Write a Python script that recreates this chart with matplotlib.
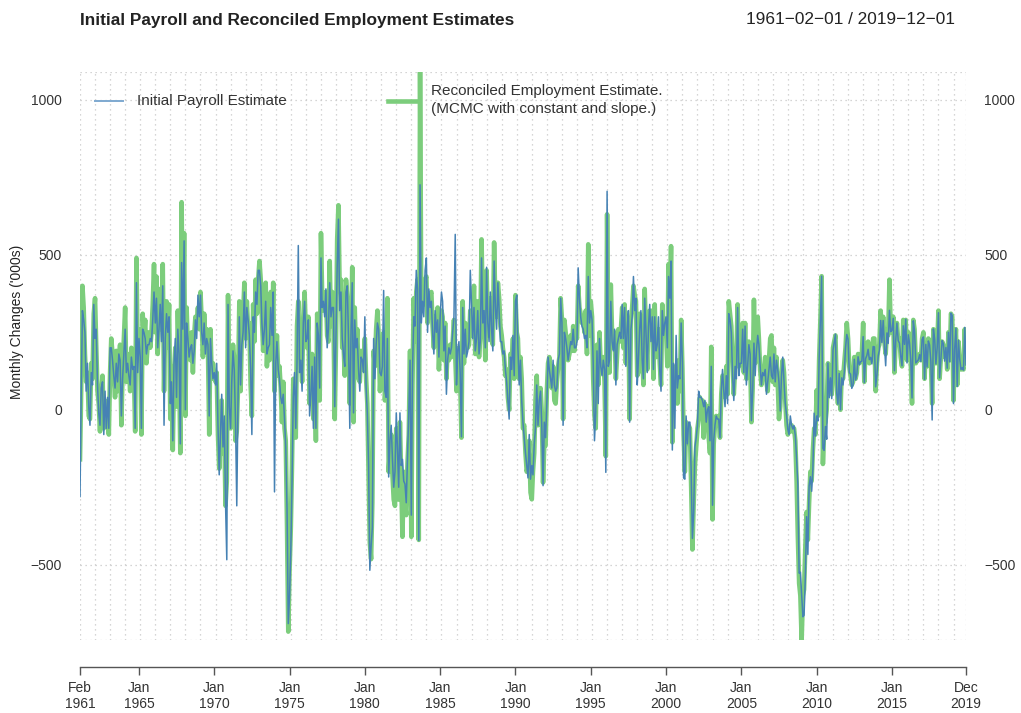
import pandas as pd
import matplotlib
matplotlib.use("Agg")
import matplotlib.pyplot as plt
from matplotlib.lines import Line2D

plt.rcParams["font.family"] = ["Liberation Sans", "DejaVu Sans"]

start_month = "1961-02-01"
end_month = "2019-12-01"

# Monthly change in payroll employment, thousands (first published estimate)
initial_payroll = [
    -280, 40, 320, 290, 250, 60, 150, 10, -50, 120, 80,               # 1961
    340, 230, 260, 80, -10, -50, 70, 90, -80, 60, -60, 40,             # 1962
    -60, 200, 200, 160, 110, 70, 150, 90, 180, 160, -20, 100,          # 1963
    180, 260, 120, 150, 110, 80, 170, 130, 140, -60, 410, 120,         # 1964
    230, 170, -60, 260, 250, 230, 180, 210, 210, 230, 220, 290,        # 1965
    380, 280, 360, 200, 260, 340, 220, 400, -50, 230, 310, 250,        # 1966
    300, 20, 90, -100, 150, 230, 40, 260, 180, -110, 475, 260,         # 1967
    545, 0, 280, 230, 170, 200, 210, 150, 190, 290, 230, 370,          # 1968
    300, 370, 250, 210, 280, 180, 230, 210, -20, 230, 150, 100,        # 1969
    120, 80, 150, -50, -210, -80, 50, -120, -20, -300, -484, 340,      # 1970
    10, -60, 90, 190, 130, -40, -310, 40, 300, 80, 210, 250,           # 1971
    380, 200, 330, 290, 240, 130, -80, 300, 250, 380, 340, 450,        # 1972
    450, 400, 280, 210, 260, 350, 180, 200, 210, 330, 240, 380,        # 1973
    -265, 150, 220, 130, 100, 40, 20, 50, -30, -120, -320, -690,       # 1974
    -600, -450, -240, 40, 120, -60, 150, 530, 120, 160, 60, 280,       # 1975
    350, 220, 230, 290, -20, 50, 140, -60, 170, -60, 280, 240,         # 1976
    70, 490, 330, 350, 300, 390, 200, 260, 410, 300, 330, 330,         # 1977
    10, 240, 460, 615, 320, 380, 230, 180, 140, 380, 400, 230,         # 1978
    -60, 260, 410, -10, 290, 200, 230, 130, 60, 170, 160, 120,         # 1979
    300, 70, -10, -180, -518, -440, -380, 230, 100, 210, 280, 260,     # 1980
    120, 110, 140, 385, 60, 40, 230, -217, -100, -50, -160, -250,      # 1981
    -200, -10, -120, -250, -10, -180, -160, -230, -240, -300, -150, -10,  # 1982
    160, -340, 120, 300, 270, 450, 390, -422, 726, 280, 350, 300,      # 1983
    450, 490, 250, 390, 330, 350, 250, 180, 320, 250, 290, 170,        # 1984
    300, 380, 350, 190, 270, 50, 160, 200, 180, 200, 250, 300,         # 1985
    566, 80, 190, 220, 120, -87, 330, 180, 260, 170, 190, 220,         # 1986
    450, 340, 230, 330, 190, 230, 320, 180, 220, 490, 280, 320,        # 1987
    200, 460, 280, 220, 380, 260, 190, 480, 330, 260, 410, 320,        # 1988
    220, 220, 180, 190, 130, 90, 30, -30, 170, 130, 240, 110,          # 1989
    350, 370, 200, 80, 160, 30, -40, -90, -140, -180, -220, -80,       # 1990
    -224, -180, -210, -110, -60, 80, -50, 30, 60, -50, -245, -40,      # 1991
    -90, 20, 170, 130, 100, 70, 160, 80, 60, 70, 160, 180,             # 1992
    360, 280, -50, 250, 230, 200, 160, 190, 220, 210, 260, 200,        # 1993
    200, 220, 458, 360, 300, 270, 260, 230, 240, 200, 430, 280,        # 1994
    320, 290, 150, -100, -10, 190, 20, 230, 140, 110, 160, 130,        # 1995
    -202, 705, 140, 160, 350, 220, 190, 260, 80, 210, 230, 250,        # 1996
    230, 340, 230, 330, 140, 260, 320, -40, 260, 300, 430, 320,        # 1997
    360, 80, 160, 260, 320, 160, 100, 360, 250, 120, 270, 340,         # 1998
    220, 300, 130, 300, 190, 210, 300, 130, 60, 320, 240, 280,         # 1999
    300, 200, 430, 360, 480, -130, 150, -60, 240, 70, 110, 100,        # 2000
    280, 150, -220, -224, -20, -110, -40, -40, -200, -415, -330, -120,  # 2001
    -90, -50, 60, 40, 40, 30, 10, 30, -40, 0, 10, -100,                # 2002
    140, -308, -100, -50, -20, -30, -30, -90, 60, 130, 60, 10,         # 2003
    110, 20, 310, 290, 250, 110, 30, 140, 100, 330, 110, 150,          # 2004
    150, 260, 120, 270, 80, 140, 210, 180, -35, 60, 215, 110,          # 2005
    190, 240, 210, 140, 80, 120, 110, 130, 50, 90, 130, 170,           # 2006
    110, 100, 180, 90, 160, 130, 90, -4, 110, 170, 90, 20,             # 2007
    -17, -63, -80, -20, -49, -62, -51, -84, -159, -240, -527, -524,    # 2008
    -598, -668, -663, -539, -345, -467, -247, -216, -263, -190, -11, -85,  # 2009
    -20, -36, 162, 290, 431, -125, -131, -54, -95, 151, 39, 103,       # 2010
    36, 192, 216, 244, 54, 18, 117, 0, 103, 80, 120, 200,              # 2011
    243, 227, 120, 115, 69, 80, 163, 96, 114, 171, 146, 155,           # 2012
    157, 236, 88, 165, 175, 195, 162, 169, 148, 204, 203, 74,          # 2013
    113, 175, 192, 288, 217, 288, 209, 142, 248, 214, 321, 252,        # 2014
    257, 295, 126, 223, 280, 223, 215, 173, 142, 271, 211, 292,        # 2015
    151, 242, 215, 160, 38, 287, 255, 151, 156, 161, 178, 156,         # 2016
    227, 235, 98, 211, 138, 222, 209, 156, -33, 261, 228, 148,         # 2017
    200, 313, 103, 164, 223, 213, 157, 201, 134, 250, 155, 312,        # 2018
    304, 20, 196, 263, 75, 224, 164, 130, 136, 128, 266, 145,          # 2019
]

# Reconciled employment estimate, thousands (MCMC with constant and slope)
reconciled = [
    -160, 60, 400, 330, 180, 90, 120, -20, -30, 150, 100,              # 1961
    310, 360, 210, 60, 20, -70, 50, 110, -60, 30, -40, 20,             # 1962
    -80, 120, 230, 180, 120, 40, 190, 60, 150, 210, -50, 130,          # 1963
    230, 330, 90, 180, 140, 60, 200, 150, 120, -70, 490, 160,          # 1964
    260, 190, -80, 310, 230, 290, 150, 210, 250, 200, 250, 340,        # 1965
    470, 250, 430, 180, 300, 390, 260, 470, 60, 280, 350, 200,         # 1966
    340, -30, 140, -130, 120, 200, 10, 320, 150, -140, 670, 210,       # 1967
    570, -20, 330, 200, 210, 160, 250, 120, 240, 300, 280, 330,        # 1968
    260, 380, 290, 170, 310, 220, 260, 200, -80, 260, 100, 150,        # 1969
    110, 90, 120, -80, -190, -100, 30, -140, -60, -310, -230, 370,     # 1970
    40, -60, 120, 210, 160, -100, -70, 80, 350, 60, 240, 300,          # 1971
    410, 230, 350, 260, 280, 80, -20, 340, 220, 420, 310, 420,         # 1972
    480, 420, 300, 190, 300, 410, 140, 250, 160, 380, 230, 410,        # 1973
    60, 180, 240, 110, 140, 70, -40, 90, -60, -100, -380, -716,        # 1974
    -520, -380, -180, 100, 10, -90, 270, 350, 180, 200, 90, 300,       # 1975
    380, 240, 200, 300, 20, 80, 180, -30, 140, -100, 310, 200,         # 1976
    30, 570, 370, 320, 330, 380, 240, 220, 480, 270, 380, 300,         # 1977
    -30, 220, 550, 660, 380, 420, 200, 220, 110, 420, 360, 250,        # 1978
    20, 230, 460, -40, 330, 170, 260, 100, 90, 190, 130, 160,          # 1979
    230, 100, 20, -200, -430, -482, -300, 190, 140, 260, 320, 240,     # 1980
    60, 140, 180, 250, 30, 90, 360, -200, -130, -80, -210, -290,       # 1981
    -310, -60, -160, -290, -40, -230, -410, -200, -300, -340, -170, -80,  # 1982
    190, -410, 80, 360, 220, 380, 420, -420, 1090, 320, 400, 340,      # 1983
    420, 430, 280, 360, 370, 380, 270, 200, 300, 280, 330, 130,        # 1984
    230, 320, 300, 160, 280, 100, 200, 160, 210, 170, 220, 290,        # 1985
    170, 60, 130, 200, 100, -90, 350, 150, 280, 200, 200, 210,         # 1986
    320, 240, 270, 400, 180, 260, 350, 170, 240, 550, 310, 300,        # 1987
    160, 450, 280, 240, 360, 250, 210, 540, 330, 300, 410, 360,        # 1988
    270, 240, 200, 170, 110, 130, 40, 0, 180, 160, 230, 100,           # 1989
    370, 250, 230, 100, 170, 100, -60, -50, -140, -200, -180, -100,    # 1990
    -267, -289, -200, -140, 30, 110, -50, -20, 70, -10, -235, -110,    # 1991
    -116, 60, 150, 170, 120, 70, 140, 30, 20, 90, 140, 170,            # 1992
    360, 290, -30, 290, 250, 210, 160, 180, 240, 190, 270, 190,        # 1993
    250, 230, 400, 330, 310, 280, 290, 250, 320, 180, 534, 240,        # 1994
    350, 300, 100, -20, -60, 210, 80, 250, 130, 120, 170, 90,          # 1995
    -150, 631, 200, 120, 404, 240, 200, 250, 100, 180, 260, 220,       # 1996
    260, 330, 200, 340, 150, 290, 280, -30, 290, 330, 400, 370,        # 1997
    350, 110, 120, 310, 280, 190, 80, 390, 240, 130, 290, 320,         # 1998
    250, 320, 100, 340, 170, 230, 260, 150, 80, 340, 250, 290,         # 1999
    260, 140, 470, 300, 528, -105, 140, 30, 100, 20, 160, 60,          # 2000
    290, 130, -80, -200, -40, -110, -50, -60, -250, -451, -300, -180,  # 2001
    -120, -60, -30, 40, 0, 30, -90, 20, -60, 10, -90, -140,            # 2002
    203, -354, -110, -50, -20, -30, -20, -90, 50, 110, 90, 40,         # 2003
    140, 50, 350, 310, 270, 160, 50, 130, 160, 340, 140, 160,          # 2004
    150, 280, 120, 280, 100, 150, 220, 170, -40, 70, 355, 150,         # 2005
    230, 300, 230, 130, 80, 120, 120, 170, 90, 60, 160, 230,           # 2006
    240, 90, 200, 80, 170, 90, -30, 10, 110, 160, 120, 30,             # 2007
    -50, -80, -60, -70, -50, -70, -60, -100, -230, -408, -560, -600,   # 2008
    -743, -600, -580, -440, -330, -420, -300, -200, -230, -130, -60, -80,  # 2009
    63, -20, 160, 290, 431, -175, -50, -40, 0, 150, 100, 120,          # 2010
    50, 200, 220, 240, 80, 20, 120, 0, 120, 100, 150, 200,             # 2011
    280, 230, 140, 110, 80, 90, 170, 100, 120, 180, 150, 160,          # 2012
    180, 280, 90, 200, 190, 220, 150, 200, 160, 230, 230, 60,          # 2013
    150, 200, 210, 320, 230, 300, 220, 180, 260, 240, 420, 260,        # 2014
    250, 300, 120, 230, 280, 220, 230, 170, 140, 290, 230, 290,        # 2015
    160, 250, 220, 150, 20, 290, 260, 150, 160, 160, 180, 160,         # 2016
    230, 250, 100, 210, 140, 230, 210, 160, 20, 260, 230, 150,         # 2017
    200, 320, 100, 170, 220, 210, 170, 200, 130, 250, 160, 310,        # 2018
    300, 30, 190, 260, 80, 220, 160, 130, 140, 130, 260, 150,          # 2019
]

tick_labels = ["Feb\n1961", "Jan\n1965", "Jan\n1970", "Jan\n1975", "Jan\n1980",
               "Jan\n1985", "Jan\n1990", "Jan\n1995", "Jan\n2000", "Jan\n2005",
               "Jan\n2010", "Jan\n2015", "Dec\n2019"]
tick_dates = ["1961-02-01", "1965-01-01", "1970-01-01", "1975-01-01", "1980-01-01",
              "1985-01-01", "1990-01-01", "1995-01-01", "2000-01-01", "2005-01-01",
              "2010-01-01", "2015-01-01", "2019-12-01"]
y_ticks = [-500, 0, 500, 1000]

dates = pd.date_range(start_month, end_month, freq="MS")
assert len(dates) == len(initial_payroll) == len(reconciled)

W, H = 1021, 713
fig = plt.figure(figsize=(W / 100, H / 100), dpi=100)
left, right, top, bottom = 80, 966, 72, 640
ax = fig.add_axes([left / W, 1 - bottom / H, (right - left) / W, (bottom - top) / H])

ymin = min(min(initial_payroll), min(reconciled))
ymax = max(max(initial_payroll), max(reconciled))
ax.set_xlim(dates[0], dates[-1])
ax.set_ylim(ymin, ymax)

grid_kw = dict(color="#c8c8c8", lw=0.9, ls=(0, (1, 3)), zorder=0)
for i in list(range(0, len(dates), 12)) + [len(dates) - 1]:
    ax.axvline(dates[i], **grid_kw)
for v in y_ticks + [ymin, ymax]:
    ax.axhline(v, **grid_kw)

green = "#7CCD7C"
blue = "#4682B4"
ax.plot(dates, reconciled, color=green, lw=3.3, solid_joinstyle="round", zorder=2)
ax.plot(dates, initial_payroll, color=blue, lw=1.1, solid_joinstyle="round", zorder=3)

for side in ("top", "left", "right"):
    ax.spines[side].set_visible(False)
ax.spines["bottom"].set_position(("outward", 19.5))
ax.spines["bottom"].set_color("#555555")
ax.spines["bottom"].set_linewidth(1.0)

ax.set_xticks(pd.to_datetime(tick_dates))
ax.set_xticklabels(tick_labels)
ax.tick_params(axis="x", direction="out", length=6, width=1.0, color="#555555",
               labelsize=10, labelcolor="#333333", pad=4)
ax.set_yticks(y_ticks)
ax.set_yticklabels([f"{v:d}".replace("-", "\u2212") for v in y_ticks])
ax.tick_params(axis="y", length=0, labelsize=10, labelcolor="#333333", pad=13,
               labelleft=True, labelright=True)

fig.text(17 / W, 1 - 322 / H, "Monthly Changes ('000s)", rotation=90,
         ha="center", va="center", fontsize=10, color="#222222")

fig.text(80 / W, 1 - 20 / H, "Initial Payroll and Reconciled Employment Estimates",
         ha="left", va="center", fontsize=12.4, fontweight="bold", color="#222222")
fig.text(955 / W, 1 - 20 / H, "1961\u221202\u221201 / 2019\u221212\u221201",
         ha="right", va="center", fontsize=12.4, color="#222222")

# legend entries
fig.add_artist(Line2D([95 / W, 123 / W], [1 - 101 / H] * 2, color="#7EA9D0", lw=1.4))
fig.text(137 / W, 1 - 101 / H, "Initial Payroll Estimate", ha="left", va="center",
         fontsize=11, color="#333333")
fig.add_artist(Line2D([388 / W, 418 / W], [1 - 101 / H] * 2, color=green, lw=3.3))
fig.text(431 / W, 1 - 100 / H, "Reconciled Employment Estimate.\n(MCMC with constant and slope.)",
         ha="left", va="center", fontsize=11, color="#333333", linespacing=1.35)

fig.savefig("out.png", dpi=100)
